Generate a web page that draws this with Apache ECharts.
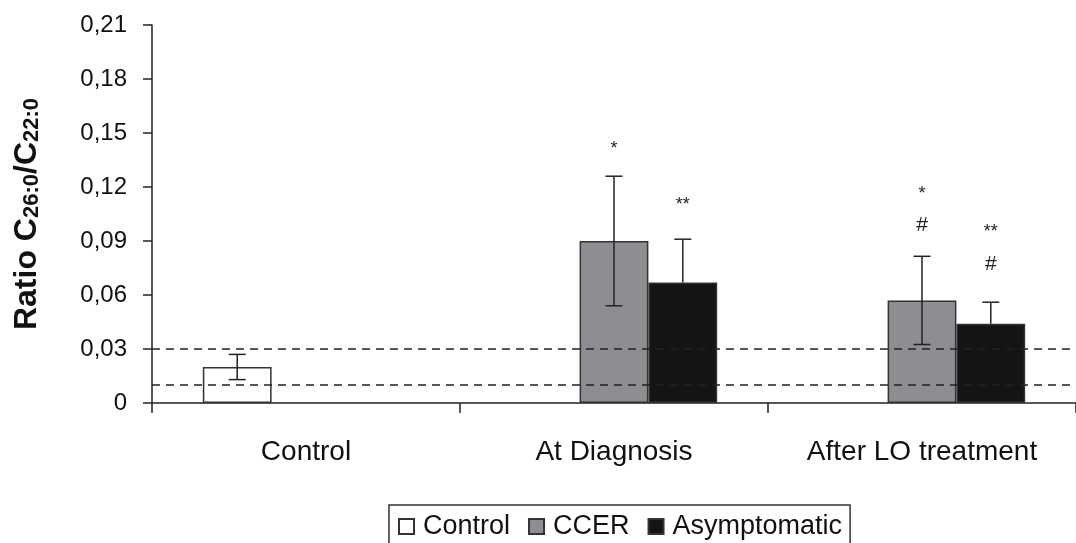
<!DOCTYPE html>
<html>
<head>
<meta charset="utf-8">
<script src="https://cdn.jsdelivr.net/npm/echarts@6/dist/echarts.min.js"></script>
<style>html,body{margin:0;padding:0;background:#fff}#c{width:1076px;height:543px}</style>
</head>
<body>
<div id="c"></div>
<script>
const categories = ['Control', 'At Diagnosis', 'After LO treatment'];
const seriesNames = ['Control', 'CCER', 'Asymptomatic'];
const controlValues = [0.020, null, null];
const ccerValues = [null, 0.090, 0.057];
const asymValues = [null, 0.067, 0.044];
const controlErr = [0.007, null, null];
const ccerErr = [null, 0.036, 0.0245];
const asymErr = [null, 0.024, 0.012];
const refLines = [0.011, 0.029];
const yTicks = [0, 0.03, 0.06, 0.09, 0.12, 0.15, 0.18, 0.21];
const annotCat = [1, 1, 2, 2, 2, 2];
const annotSeries = [1, 2, 1, 1, 2, 2];
const annotText = ['*', '**', '*', '#', '**', '#'];
const annotValue = [0.144, 0.113, 0.119, 0.099, 0.098, 0.077];

const values = [controlValues, ccerValues, asymValues];
const errs = [controlErr, ccerErr, asymErr];
const colors = ['#ffffff', '#8e8d92', '#141414'];
const showLower = [true, true, false];
const GAP = 0.33;

const errData = [];
values.forEach((vals, s) => vals.forEach((v, c) => {
  if (v != null) errData.push([c, s, v, errs[s][c]]);
}));
const annData = annotCat.map((c, i) => [c, annotSeries[i], annotValue[i], i]);

function slotX(api, cat, s) {
  const catW = api.size([1, 0])[0];
  const barW = catW * (1 - GAP) / 3;
  return api.coord([cat, 0])[0] + (s - 1) * barW;
}

const chart = echarts.init(document.getElementById('c'));
const font = 'Liberation Sans, Arial, sans-serif';
const barSeries = values.map((vals, s) => ({
  name: seriesNames[s],
  type: 'bar',
  data: vals.map(v => v == null ? '-' : v),
  barGap: '0%',
  barCategoryGap: (GAP * 100) + '%',
  itemStyle: { color: colors[s], borderColor: '#333', borderWidth: 1.5 },
  z: 2,
  silent: true
}));
barSeries[0].markLine = {
  silent: true, symbol: 'none', label: { show: false },
  lineStyle: { color: '#222', type: [8, 6], width: 1.5 },
  data: refLines.map(v => ({ yAxis: v })),
  z: 5
};

const option = {
  animation: false,
  backgroundColor: '#fff',
  grid: { left: 152, top: 25, right: -15, bottom: 140 },
  legend: {
    data: seriesNames,
    left: 389, top: 505,
    orient: 'horizontal',
    icon: 'rect', itemWidth: 15, itemHeight: 15, itemGap: 18,
    borderColor: '#333', borderWidth: 1.5, borderRadius: 0,
    padding: [8, 8, 12, 9],
    textStyle: { fontFamily: font, fontSize: 27, color: '#111', padding: [0, 0, 0, 4] },
    selectedMode: false
  },
  xAxis: {
    type: 'category', data: categories,
    axisLine: { lineStyle: { color: '#222', width: 1.5 } },
    axisTick: { show: true, length: 10, lineStyle: { color: '#222', width: 1.5 } },
    axisLabel: { fontFamily: font, fontSize: 28, color: '#111', margin: 35 },
    splitLine: { show: false }
  },
  yAxis: {
    type: 'value', min: 0, max: 0.21, interval: 0.03,
    axisLine: { show: true, lineStyle: { color: '#222', width: 1.5 } },
    axisTick: { show: true, length: 9, lineStyle: { color: '#222', width: 1.5 } },
    axisLabel: {
      fontFamily: font, fontSize: 24, color: '#111', margin: 25,
      formatter: v => { const t = yTicks.find(x => Math.abs(x - v) < 1e-9); const val = t == null ? v : t; return val === 0 ? '0' : val.toFixed(2).replace('.', ','); }
    },
    splitLine: { show: false },
    name: '{b|Ratio C}{s|26:0}{b|/C}{s|22:0}',
    nameLocation: 'middle', nameRotate: 90, nameGap: 109,
    nameTextStyle: {
      rich: {
        b: { fontFamily: font, fontSize: 32, fontWeight: 'bold', color: '#111', verticalAlign: 'bottom', lineHeight: 36 },
        s: { fontFamily: font, fontSize: 22, fontWeight: 'bold', color: '#111', verticalAlign: 'bottom', lineHeight: 30 }
      }
    }
  },
  series: barSeries.concat([
    {
      type: 'custom', name: 'err', silent: true, z: 4,
      encode: { x: 0, y: 2 },
      data: errData,
      renderItem: (params, api) => {
        const c = api.value(0), s = api.value(1), v = api.value(2), e = api.value(3);
        const x = slotX(api, c, s);
        const yHi = api.coord([c, v + e])[1];
        const yLo = showLower[s] ? api.coord([c, v - e])[1] : api.coord([c, v])[1];
        const hw = 8.5;
        const st = { stroke: '#222', lineWidth: 1.5 };
        const kids = [
          { type: 'line', shape: { x1: x, y1: yHi, x2: x, y2: yLo }, style: st },
          { type: 'line', shape: { x1: x - hw, y1: yHi, x2: x + hw, y2: yHi }, style: st }
        ];
        if (showLower[s]) kids.push({ type: 'line', shape: { x1: x - hw, y1: yLo, x2: x + hw, y2: yLo }, style: st });
        return { type: 'group', children: kids };
      }
    },
    {
      type: 'custom', name: 'ann', silent: true, z: 4,
      encode: { x: 0, y: 2 },
      data: annData,
      renderItem: (params, api) => {
        const c = api.value(0), s = api.value(1), v = api.value(2), i = api.value(3);
        const x = slotX(api, c, s);
        const y = api.coord([c, v])[1];
        const txt = annotText[i];
        const star = txt.indexOf('*') >= 0;
        return { type: 'text', x: x, y: y + (star ? 5 : 0), style: {
          text: txt, fill: '#222', font: (star ? '18px ' : '21px ') + font,
          textAlign: 'center', textVerticalAlign: 'middle'
        } };
      }
    }
  ])
};
chart.setOption(option);
</script>
</body>
</html>
